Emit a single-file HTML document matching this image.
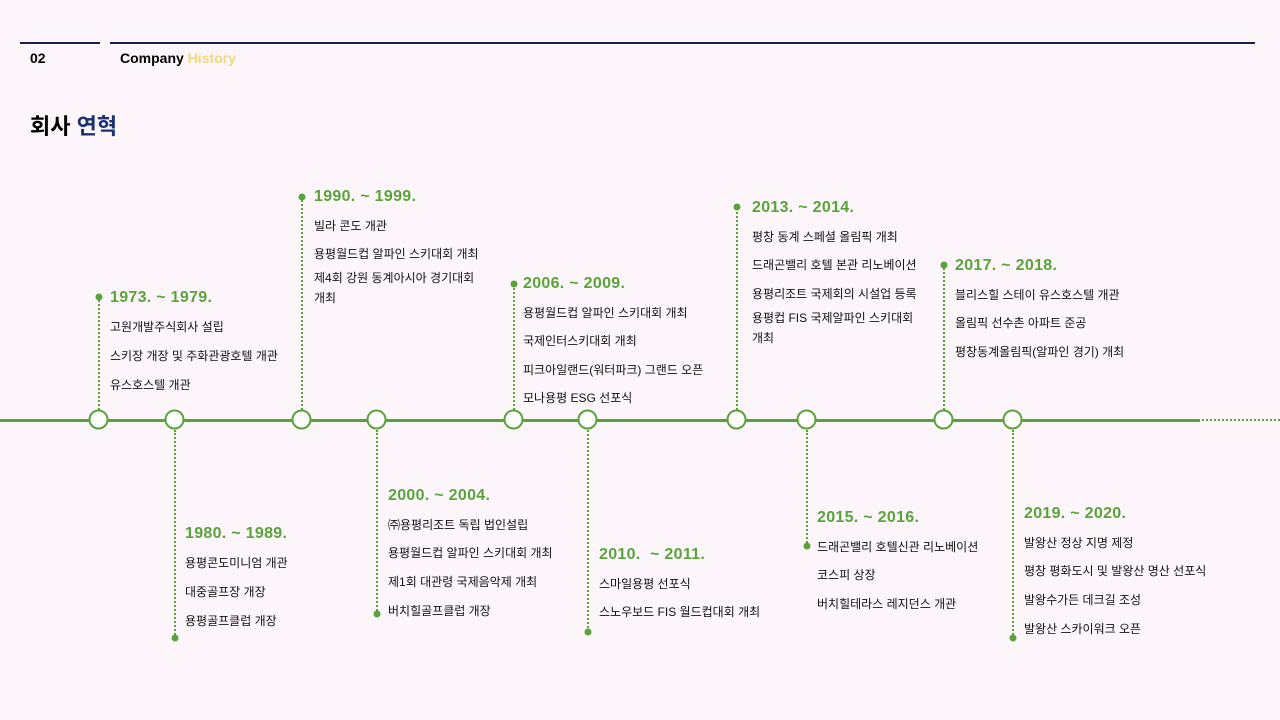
<!DOCTYPE html>
<html><head><meta charset="utf-8"><style>
body{margin:0;width:1280px;height:720px;background:#fcf6fb;position:relative;overflow:hidden;font-family:"Liberation Sans","Noto Sans CJK KR",sans-serif;}
.a{position:absolute;white-space:nowrap;}
.t{position:absolute;white-space:nowrap;color:#5aa33a;font-weight:bold;font-size:16px;line-height:20px;transform:translateY(-10px);letter-spacing:0.3px}
.i{position:absolute;white-space:nowrap;color:#111;font-size:12px;line-height:20px;transform:translateY(-10px)}
.c{position:absolute;width:16px;height:16px;border:2.5px solid #5aa33a;border-radius:50%;background:#fff;transform:translate(-10.5px,-10.5px);top:420px}
.v{position:absolute;border-left:2px dotted #5aa33a;width:0;transform:translateX(-1px)}
.d{position:absolute;width:7px;height:7px;border-radius:50%;background:#5aa33a;transform:translate(-3.5px,-3.5px)}
</style></head><body>
<div class="a" style="left:20px;top:42px;width:80px;height:2px;background:#1b2048"></div>
<div class="a" style="left:110px;top:42px;width:1145px;height:2px;background:#1b2048"></div>
<div class="a" style="left:30px;top:49px;font-size:14px;font-weight:bold;line-height:18px">02</div>
<div class="a" style="left:120px;top:49px;font-size:14px;font-weight:bold;line-height:18px">Company <span style="color:#f0d77a">History</span></div>
<div class="a" style="left:30px;top:113px;font-size:22px;font-weight:bold;line-height:28px">회사 <span style="color:#1c3370">연혁</span></div>

<div class="a" style="left:0;top:419px;width:1200px;height:3px;background:#5aa33a"></div>
<div class="a" style="left:1202px;top:419px;width:78px;border-top:2px dotted #5aa33a"></div>

<!-- verticals -->
<div class="v" style="left:99px;top:297px;height:113px"></div><div class="d" style="left:99px;top:297px"></div>
<div class="v" style="left:175px;top:430px;height:208px"></div><div class="d" style="left:175px;top:638px"></div>
<div class="v" style="left:302px;top:197px;height:213px"></div><div class="d" style="left:302px;top:197px"></div>
<div class="v" style="left:377px;top:430px;height:184px"></div><div class="d" style="left:377px;top:614px"></div>
<div class="v" style="left:514px;top:284px;height:126px"></div><div class="d" style="left:514px;top:284px"></div>
<div class="v" style="left:588px;top:430px;height:202px"></div><div class="d" style="left:588px;top:632px"></div>
<div class="v" style="left:737px;top:207px;height:203px"></div><div class="d" style="left:737px;top:207px"></div>
<div class="v" style="left:807px;top:430px;height:116px"></div><div class="d" style="left:807px;top:546px"></div>
<div class="v" style="left:944px;top:265px;height:145px"></div><div class="d" style="left:944px;top:265px"></div>
<div class="v" style="left:1013px;top:430px;height:208px"></div><div class="d" style="left:1013px;top:638px"></div>

<div class="c" style="left:99px"></div><div class="c" style="left:175px"></div><div class="c" style="left:302px"></div><div class="c" style="left:377px"></div><div class="c" style="left:514px"></div><div class="c" style="left:588px"></div><div class="c" style="left:737px"></div><div class="c" style="left:807px"></div><div class="c" style="left:944px"></div><div class="c" style="left:1013px"></div>

<div class="t" style="left:110px;top:298px">1973. ~ 1979.</div>
<div class="i" style="left:110px;top:327px">고원개발주식회사 설립</div>
<div class="i" style="left:110px;top:356px">스키장 개장 및 주화관광호텔 개관</div>
<div class="i" style="left:110px;top:385px">유스호스텔 개관</div>

<div class="t" style="left:185px;top:534px">1980. ~ 1989.</div>
<div class="i" style="left:185px;top:563px">용평콘도미니엄 개관</div>
<div class="i" style="left:185px;top:592px">대중골프장 개장</div>
<div class="i" style="left:185px;top:621px">용평골프클럽 개장</div>

<div class="t" style="left:314px;top:197px">1990. ~ 1999.</div>
<div class="i" style="left:314px;top:226px">빌라 콘도 개관</div>
<div class="i" style="left:314px;top:254px">용평월드컵 알파인 스키대회 개최</div>
<div class="i" style="left:314px;top:278px">제4회 강원 동계아시아 경기대회</div>
<div class="i" style="left:314px;top:298px">개최</div>

<div class="t" style="left:388px;top:496px">2000. ~ 2004.</div>
<div class="i" style="left:388px;top:525px">㈜용평리조트 독립 법인설립</div>
<div class="i" style="left:388px;top:553px">용평월드컵 알파인 스키대회 개최</div>
<div class="i" style="left:388px;top:582px">제1회 대관령 국제음악제 개최</div>
<div class="i" style="left:388px;top:611px">버치힐골프클럽 개장</div>

<div class="t" style="left:523px;top:284px">2006. ~ 2009.</div>
<div class="i" style="left:523px;top:313px">용평월드컵 알파인 스키대회 개최</div>
<div class="i" style="left:523px;top:341px">국제인터스키대회 개최</div>
<div class="i" style="left:523px;top:370px">피크아일랜드(워터파크) 그랜드 오픈</div>
<div class="i" style="left:523px;top:398px">모나용평 ESG 선포식</div>

<div class="t" style="left:599px;top:555px">2010.&nbsp; ~ 2011.</div>
<div class="i" style="left:599px;top:584px">스마일용평 선포식</div>
<div class="i" style="left:599px;top:612px">스노우보드 FIS 월드컵대회 개최</div>

<div class="t" style="left:752px;top:208px">2013. ~ 2014.</div>
<div class="i" style="left:752px;top:237px">평창 동계 스페셜 올림픽 개최</div>
<div class="i" style="left:752px;top:265px">드래곤밸리 호텔 본관 리노베이션</div>
<div class="i" style="left:752px;top:294px">용평리조트 국제회의 시설업 등록</div>
<div class="i" style="left:752px;top:318px">용평컵 FIS 국제알파인 스키대회</div>
<div class="i" style="left:752px;top:338px">개최</div>

<div class="t" style="left:817px;top:518px">2015. ~ 2016.</div>
<div class="i" style="left:817px;top:547px">드래곤밸리 호텔신관 리노베이션</div>
<div class="i" style="left:817px;top:575px">코스피 상장</div>
<div class="i" style="left:817px;top:604px">버치힐테라스 레지던스 개관</div>

<div class="t" style="left:955px;top:266px">2017. ~ 2018.</div>
<div class="i" style="left:955px;top:295px">블리스힐 스테이 유스호스텔 개관</div>
<div class="i" style="left:955px;top:323px">올림픽 선수촌 아파트 준공</div>
<div class="i" style="left:955px;top:352px">평창동계올림픽(알파인 경기) 개최</div>

<div class="t" style="left:1024px;top:514px">2019. ~ 2020.</div>
<div class="i" style="left:1024px;top:543px">발왕산 정상 지명 제정</div>
<div class="i" style="left:1024px;top:571px">평창 평화도시 및 발왕산 명산 선포식</div>
<div class="i" style="left:1024px;top:600px">발왕수가든 데크길 조성</div>
<div class="i" style="left:1024px;top:629px">발왕산 스카이워크 오픈</div>
</body></html>
